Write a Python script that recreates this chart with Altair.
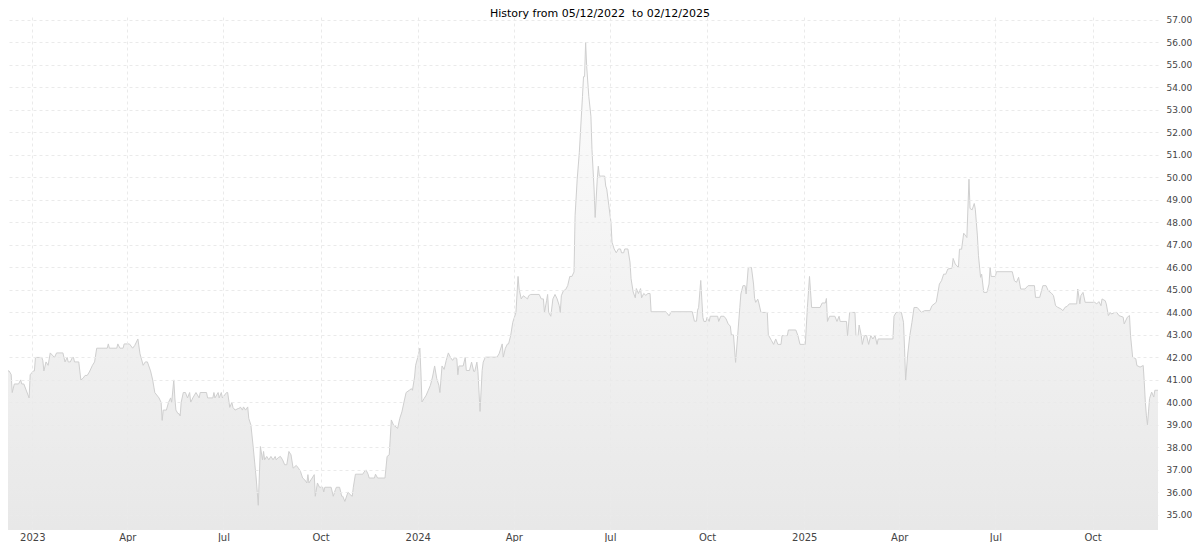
import altair as alt
import pandas as pd

# ---- data (days since the start date, closing value) ----
start_date = "2022-12-05"
end_date = "2025-12-02"

day_offsets = [
    0, 5, 7, 8, 10, 14, 16, 17, 19, 24, 25, 28, 29, 30, 36, 37, 38, 40, 42, 44, 46, 48, 50, 56, 58, 60, 61, 63, 65, 66,
    67, 71, 73, 75, 77, 79, 81, 84, 86, 88, 98, 99, 100, 107, 108, 110, 113, 114, 119, 122, 124, 127, 129, 132, 134,
    136, 139, 141, 143, 147, 149, 150, 151, 154, 156, 158, 159, 161, 162, 163, 165, 166, 167, 168, 170, 172, 174, 176,
    177, 179, 182, 185, 186, 192, 193, 198, 199, 200, 203, 204, 206, 207, 211, 212, 214, 216, 217, 219, 222, 223,
    224, 226, 227, 229, 231, 232, 234, 236, 239, 241, 243, 245, 246, 247, 249, 251, 253, 255, 257, 258, 260, 262, 264,
    266, 268, 270, 272, 274, 277, 279, 281, 283, 285, 287, 288, 289, 292, 294, 295, 297, 299, 302, 303, 304, 310, 312,
    314, 315, 318, 320, 321, 323, 326, 328, 330, 331, 333, 340, 341, 343, 345, 346, 351, 352, 354, 361, 363, 365, 367,
    369, 373, 375, 377, 379, 381, 384, 386, 387, 389, 390, 392, 394, 395, 396, 398, 400, 402, 404, 406, 408, 410, 412,
    413, 415, 417, 419, 421, 423, 425, 427, 429, 430, 431, 435, 437, 438, 441,
    443, 445, 446, 448, 449, 451, 453, 454, 456, 467, 469, 472, 473, 475, 477, 478, 480, 482, 485, 487, 488, 490, 492,
    494, 496, 497, 499, 507, 509, 511, 512, 514, 515, 516, 518, 520, 522, 524, 526, 527, 528, 530, 532, 534, 536, 538, 540,
    541, 543, 545, 548, 549, 550, 551, 552, 554, 556, 557, 559, 560, 562, 563, 564, 566, 569, 570, 571, 573, 575, 576,
    578, 580, 582, 584, 585, 587, 588, 591, 593, 594, 596, 598, 599, 601, 603, 604, 606, 608, 610, 612, 613, 627, 630,
    632, 652, 654, 656, 657,
    658, 660, 662, 663, 665, 666, 668, 669, 676, 677, 679, 682, 684, 686, 688, 689, 691, 693, 695, 697, 698, 700, 702,
    703, 705, 708, 710, 711, 712, 714, 715, 717, 723, 724, 727, 729, 731, 733, 736, 737, 742, 743, 750, 752, 754, 759,
    761, 763, 765, 773, 775, 778, 779, 780, 782, 787, 789, 791, 792, 798, 799, 801, 806, 807, 809, 810, 812, 813, 815,
    817, 819, 821, 823, 825, 827, 828, 842, 843, 845, 850, 852, 853, 854, 856, 858, 860, 862, 865, 869,
    872, 877, 879, 883, 886, 888, 890, 892, 894, 898, 899, 901, 904, 905, 907, 909, 911, 912, 914, 915, 917, 919, 920,
    922, 923, 925, 926, 928, 931, 933, 934, 935, 939, 940, 955, 957, 959, 961, 963, 967, 970, 976, 977, 981, 984, 987,
    989, 992, 994, 996, 998, 1001, 1003, 1005, 1007, 1009, 1016, 1017, 1019, 1020, 1022, 1024, 1033, 1035, 1037, 1039,
    1040, 1043, 1044, 1046, 1048, 1049, 1052, 1054, 1056, 1060, 1061, 1064, 1066, 1067, 1069, 1072, 1073, 1076, 1079,
    1080, 1081, 1082, 1083, 1084, 1085, 1087, 1089, 1090, 1093,
]

prices = [
    41.4, 41.4, 41.24, 40.44, 40.82, 40.82, 41.0, 40.82, 40.82, 40.2, 41.23, 41.4, 41.4, 42.0, 42.0, 41.85, 41.4, 41.8,
    41.65, 42.2, 42.1, 42.0, 42.2, 42.2, 41.8, 42.0, 41.8, 41.8, 42.0, 42.0, 41.8, 41.8, 41.0, 41.07, 41.2, 41.2, 41.35,
    41.65, 41.8, 42.41, 42.41, 42.6, 42.41, 42.41, 42.6, 42.41, 42.41, 42.6, 42.6, 42.41, 42.53, 42.82, 42.16, 41.65,
    41.8, 41.8, 41.4, 41.0, 40.44, 40.2, 40.0, 39.2, 39.66, 39.66, 40.0, 40.2, 40.0, 41.0, 40.2, 39.66, 39.5, 39.5, 39.4,
    40.0, 40.44, 40.44, 40.2, 40.44, 40.0, 40.2, 40.44, 40.2, 40.44, 40.44, 40.2, 40.2, 40.44, 40.2, 40.44, 40.2, 40.44,
    40.2, 40.44, 40.44, 39.78, 40.0, 39.78, 39.66, 39.73, 39.73,
    39.8, 39.66, 39.8, 39.66, 39.8, 39.29, 39.0, 38.11, 36.64, 35.43, 38.04, 37.45, 37.82, 37.45, 37.6, 37.45, 37.6,
    37.45, 37.6, 37.45, 37.55, 37.6, 37.45, 37.23, 37.23, 37.82, 37.67, 37.08, 37.2, 37.08, 36.93, 36.64, 36.56, 36.42,
    36.79, 36.42, 36.64, 36.79, 35.83, 36.42, 36.23, 36.23, 36.02, 36.23, 36.23, 35.83, 36.12, 36.23, 36.23, 35.83,
    35.83, 35.6, 36.02, 35.9, 35.83, 36.23, 36.81, 36.81, 36.9, 37.0, 36.81, 36.64, 36.64, 36.81, 36.64, 36.64, 37.6,
    37.67, 39.22, 39.0, 38.85, 39.29, 39.58, 40.02, 40.44, 40.54, 40.61, 40.54, 41.13, 41.65, 42.0, 42.41, 41.35, 40.02,
    40.17, 40.32, 40.54, 40.76, 41.13, 41.62, 41.06, 40.76, 40.44, 41.62, 41.47, 41.87, 42.2, 42.0, 41.87, 42.0, 41.94,
    41.23, 41.62, 41.62, 42.0, 41.42, 41.42,
    41.79, 41.38, 41.38, 41.79, 41.38, 39.6, 41.42, 41.79, 42.01, 42.01, 42.16, 42.6, 42.01, 42.41, 42.6, 42.6, 42.97,
    43.56, 44.0, 45.6, 45.04, 44.6, 44.74, 44.67, 44.6, 44.74, 44.8, 44.8, 44.6, 44.6, 44.0, 44.52, 44.8, 44.0, 43.83,
    44.6, 44.8, 44.6, 44.3, 44.0, 44.74, 44.97, 45.01, 45.19, 45.6, 45.6, 45.8,
    48.3, 49.92, 51.1, 53.6, 54.48, 54.48, 56.0, 54.92, 53.6, 52.72, 51.24, 49.48, 48.22, 49.92, 50.5, 50.06, 50.06,
    50.06, 49.62, 49.48, 48.74, 48.0, 47.12, 46.82, 46.65, 46.82, 46.82, 46.65, 46.65, 46.82, 46.82, 46.24, 45.5, 44.91,
    44.65, 45.06, 44.84, 45.06, 44.65, 44.84, 44.76, 44.84, 44.84, 44.03, 44.03, 43.85, 44.03, 44.03, 43.61, 43.61, 44.1,
    44.22, 45.42, 43.78, 43.6, 43.6, 43.78, 43.6, 43.83, 43.83, 43.6, 43.83, 43.83, 43.71, 43.49, 43.39, 43.0, 43.0,
    41.78, 43.0, 44.22, 44.82, 45.19, 45.19, 44.82, 46.0, 46.0, 45.26, 44.62, 44.45, 44.59, 44.42, 44.0, 44.0, 43.0,
    42.75, 42.58, 42.82, 42.58, 42.58, 42.97, 42.97, 43.22, 43.22, 42.97, 42.58, 42.58, 44.22, 45.6, 44.22, 44.22, 44.42,
    44.42, 44.62, 43.6, 43.83, 43.83, 43.6, 43.83, 43.6, 43.6, 42.97, 44.0, 44.0, 42.97, 42.97, 43.44, 42.97, 42.58,
    42.97, 42.97, 42.58, 42.97, 42.82, 42.97, 42.58, 42.82, 42.82, 43.83, 44.0, 44.0, 43.56, 42.38, 40.97, 42.15, 42.97,
    43.56, 44.22, 44.22, 44.0,
    44.08, 44.08, 44.3, 44.45, 45.26, 45.41, 45.7, 45.7, 45.93, 45.97, 46.4, 46.15, 46.0, 46.81, 46.81, 47.52, 47.4,
    47.33, 49.92, 48.62, 48.56, 48.84, 48.59, 47.4, 46.52, 45.56, 45.7, 44.89, 44.89, 45.26, 46.0, 45.6, 45.6, 45.81,
    45.81, 45.41, 45.34, 45.56, 45.04, 45.04, 45.19, 45.19, 44.67, 44.67, 45.19, 45.19, 44.97, 44.86, 44.75, 44.3,
    44.23, 44.16, 44.08, 44.23, 44.27, 44.38, 44.38, 45.04, 44.38, 44.75, 44.89, 44.45, 44.45, 44.38, 44.48, 44.3, 44.6,
    44.52, 44.38, 43.86, 44.0, 43.93, 44.0, 44.0, 43.86, 43.79, 43.49, 43.79, 43.86, 42.97, 42.01, 41.94, 41.64, 41.57,
    41.64, 40.9, 40.02, 39.43, 39.01, 39.58, 40.17, 40.46, 40.24, 40.54, 40.54,
]

quarter_ticks = [
    (2023, 1), (2023, 4), (2023, 7), (2023, 10),
    (2024, 1), (2024, 4), (2024, 7), (2024, 10),
    (2025, 1), (2025, 4), (2025, 7), (2025, 10),
]
price_ticks = list(range(35, 58))
y_domain = [34.33, 57.13]

title_text = "History from 05/12/2022\u00a0 to 02/12/2025"

# ---- build table ----
dates = pd.Timestamp(start_date) + pd.to_timedelta(day_offsets, unit="D")
df = pd.DataFrame({"date": dates.strftime("%Y-%m-%dT00:00:00"), "price": prices})

x_vals = [alt.DateTime(year=y, month=m, date=1) for y, m in quarter_ticks]

font = "DejaVu Sans"
grid_color = "#eaeaea"

area = alt.Chart(df).mark_area(
    clip=True,
    interpolate="linear",
    color=alt.Gradient(
        gradient="linear",
        stops=[
            alt.GradientStop(color="#fcfcfc", offset=0),
            alt.GradientStop(color="#dedede", offset=1),
        ],
        x1=0, x2=0, y1=0, y2=1,
    ),
    line={"color": "#cfcfcf", "strokeWidth": 1},
).encode(
    x=alt.X(
        "date:T",
        scale=alt.Scale(
            # the first few days fall into the page margin in the reference
            domain=[alt.DateTime(year=2022, month=12, date=9), alt.DateTime(year=2025, month=12, date=2)],
            nice=False,
        ),
        axis=alt.Axis(
            title=None,
            values=x_vals,
            labelExpr="month(datum.value) == 0 ? timeFormat(datum.value, '%Y') : timeFormat(datum.value, '%b')",
            grid=True,
            gridColor=grid_color,
            gridDash=[3, 3],
            ticks=False,
            domain=False,
            labelFont=font,
            labelFontSize=10,
            labelColor="#444444",
            labelPadding=2,
            zindex=1,
        ),
    ),
    y=alt.Y(
        "price:Q",
        scale=alt.Scale(domain=y_domain, zero=False, nice=False),
        axis=alt.Axis(
            title=None,
            orient="right",
            values=price_ticks,
            format=".2f",
            grid=True,
            gridColor=grid_color,
            gridDash=[3, 3],
            ticks=False,
            domain=False,
            labelFont=font,
            labelFontSize=9,
            labelColor="#444444",
            labelPadding=8,
            zindex=1,
        ),
    ),
    y2=alt.datum(y_domain[0]),
)

chart = area.properties(
    width=1184,
    height=534,
    autosize=alt.AutoSizeParams(type="fit", contains="padding"),
    title=alt.TitleParams(
        title_text,
        font=font,
        fontSize=11,
        fontWeight="normal",
        color="#000000",
        anchor="middle",
        dx=17,
        offset=-3,
    ),
    padding={"left": 0, "top": 0, "right": 0, "bottom": 0},
    background="white",
).configure_view(stroke=None)

chart.save("out.html", embed_options={"renderer": "svg", "actions": False})
